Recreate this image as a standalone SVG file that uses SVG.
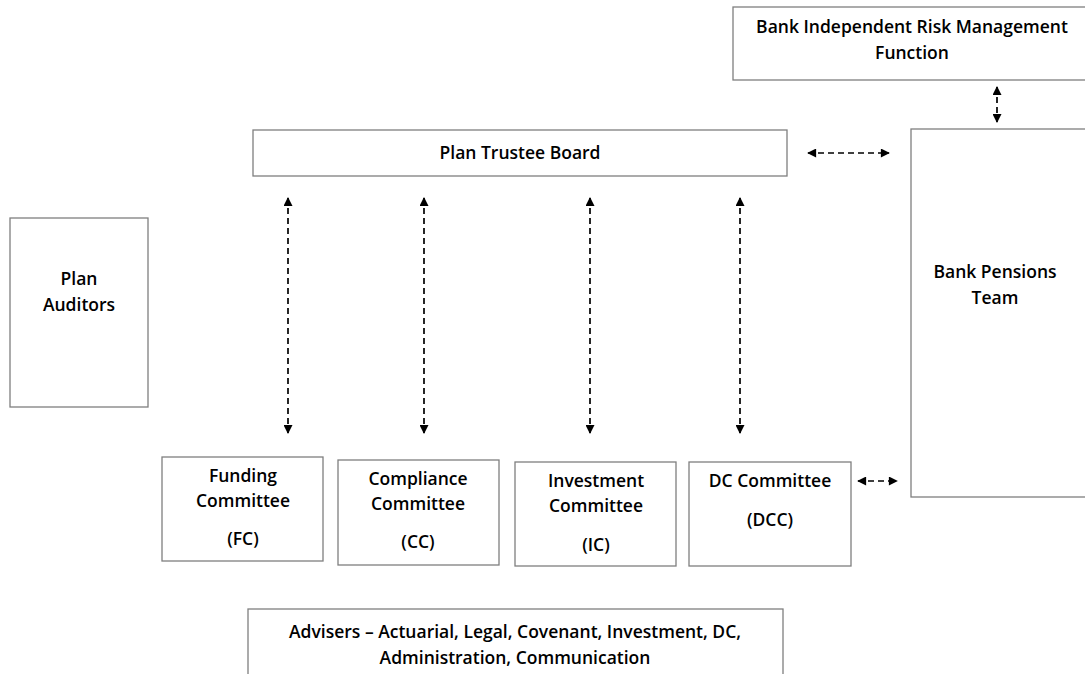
<svg xmlns="http://www.w3.org/2000/svg" width="1085" height="674" viewBox="0 0 1085 674">
<defs>
<style>
.box{fill:#fff;stroke:#7f7f7f;stroke-width:1.3}
.t{font-family:"Open Sans","Liberation Sans",sans-serif;font-weight:600;font-size:17.5px;fill:#000;text-anchor:middle}
.c{stroke:#000;stroke-width:1.7;stroke-dasharray:6 4;fill:none}
</style>
<marker id="ah" viewBox="0 0 10 10" refX="9" refY="5" markerWidth="10" markerHeight="9" markerUnits="userSpaceOnUse" orient="auto-start-reverse">
<path d="M0,0 L10,5 L0,10 z" fill="#000"/>
</marker>
</defs>
<rect width="1085" height="674" fill="#fff"/>
<g id="risk">
<rect class="box" x="733" y="7" width="360" height="73"/>
<text class="t" x="912" y="33">Bank Independent Risk Management</text>
<text class="t" x="912" y="59">Function</text>
</g>
<g id="board">
<rect class="box" x="253" y="130" width="534" height="46"/>
<text class="t" x="520" y="159">Plan Trustee Board</text>
</g>
<g id="auditors">
<rect class="box" x="10" y="218" width="138" height="189"/>
<text class="t" x="79" y="285">Plan</text>
<text class="t" x="79" y="311">Auditors</text>
</g>
<g id="pensions">
<rect class="box" x="911" y="129" width="180" height="368"/>
<text class="t" x="995" y="278">Bank Pensions</text>
<text class="t" x="995" y="304">Team</text>
</g>
<g id="fc">
<rect class="box" x="162" y="457" width="161" height="104"/>
<text class="t" x="243" y="482">Funding</text>
<text class="t" x="243" y="507">Committee</text>
<text class="t" x="243" y="545">(FC)</text>
</g>
<g id="cc">
<rect class="box" x="338" y="460" width="161" height="105"/>
<text class="t" x="418" y="485">Compliance</text>
<text class="t" x="418" y="510">Committee</text>
<text class="t" x="418" y="548">(CC)</text>
</g>
<g id="ic">
<rect class="box" x="515" y="462" width="161" height="104"/>
<text class="t" x="596" y="487">Investment</text>
<text class="t" x="596" y="512">Committee</text>
<text class="t" x="596" y="551">(IC)</text>
</g>
<g id="dcc">
<rect class="box" x="689" y="462" width="162" height="104"/>
<text class="t" x="770" y="487">DC Committee</text>
<text class="t" x="770" y="526">(DCC)</text>
</g>
<g id="advisers">
<rect class="box" x="248" y="609" width="535" height="80"/>
<text class="t" x="515" y="638">Advisers – Actuarial, Legal, Covenant, Investment, DC,</text>
<text class="t" x="515" y="664">Administration, Communication</text>
</g>
<g id="connectors">
<line class="c" x1="288" y1="198" x2="288" y2="433" marker-start="url(#ah)" marker-end="url(#ah)"/>
<line class="c" x1="424" y1="198" x2="424" y2="433" marker-start="url(#ah)" marker-end="url(#ah)"/>
<line class="c" x1="590" y1="198" x2="590" y2="433" marker-start="url(#ah)" marker-end="url(#ah)"/>
<line class="c" x1="740" y1="198" x2="740" y2="433" marker-start="url(#ah)" marker-end="url(#ah)"/>
<line class="c" x1="808" y1="153" x2="889" y2="153" marker-start="url(#ah)" marker-end="url(#ah)"/>
<line class="c" x1="997" y1="87" x2="997" y2="122" stroke-dasharray="none" marker-start="url(#ah)" marker-end="url(#ah)"/>
<line class="c" x1="858" y1="481" x2="897" y2="481" marker-start="url(#ah)" marker-end="url(#ah)"/>
</g>
</svg>
